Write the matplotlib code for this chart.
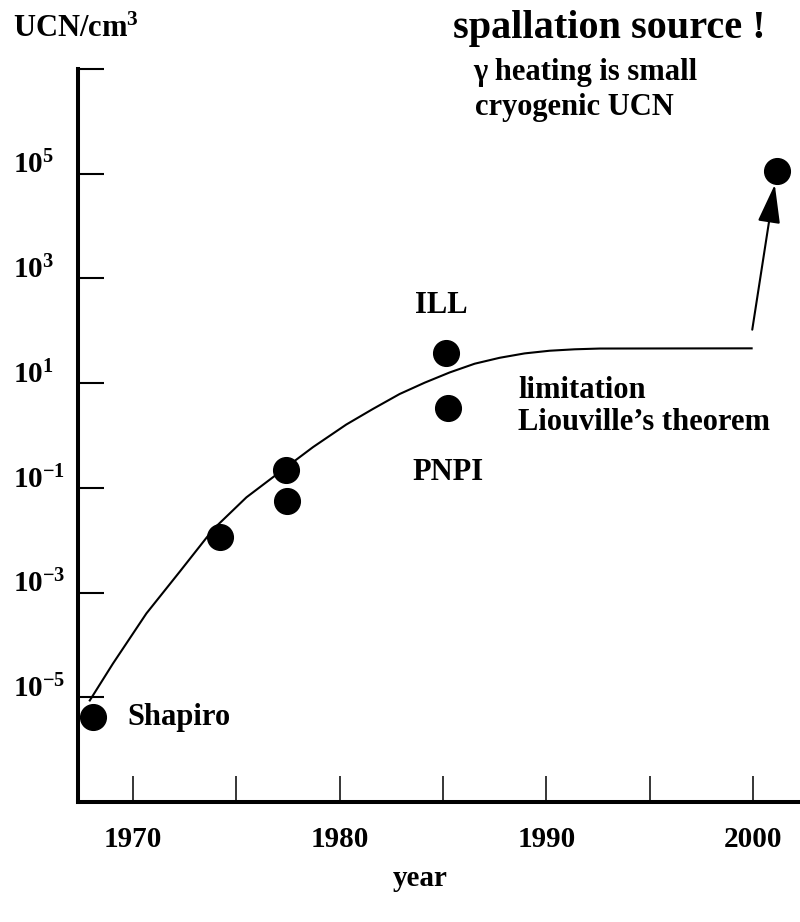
import matplotlib
matplotlib.use('Agg')
import matplotlib.pyplot as plt
from matplotlib.ticker import FixedLocator, NullLocator

# ── values ───────────────────────────────────────────────────────────────────
trend_years = [1967.91, 1969.03, 1970.65, 1972.26, 1973.87, 1975.49, 1977.10,
               1978.71, 1980.32, 1981.60, 1982.90, 1984.11, 1985.32, 1986.53,
               1987.74, 1988.95, 1990.16, 1991.37, 1992.58, 1999.93]
trend_ucn = [8.7e-6, 4.4e-5, 4.0e-4, 2.5e-3, 1.6e-2, 6.6e-2, 0.20,
             0.60, 1.62, 3.2, 6.2, 10.2, 16.0, 23.5,
             30.5, 37.0, 41.6, 44.3, 45.8, 46.2]

source_names = ['Shapiro', '', '', '', 'ILL', 'PNPI', '']
source_years = [1968.07, 1974.21, 1977.42, 1977.45, 1985.16, 1985.22, 2001.18]
source_ucn = [4.2e-6, 1.17e-2, 0.22, 0.055, 37.0, 3.3, 1.14e5]

arrow_from = (1999.96, 105.0)
arrow_to = (2001.05, 6.2e4)

year_ticks = [1970, 1975, 1980, 1985, 1990, 1995, 2000]
year_labels = ['1970', '', '1980', '', '1990', '', '2000']
ucn_ticks = [1e7, 1e5, 1e3, 1e1, 1e-1, 1e-3, 1e-5]
ucn_labels = ['', '$10^{5}$', '$10^{3}$', '$10^{1}$',
              '$10^{-1}$', '$10^{-3}$', '$10^{-5}$']

# ── style ────────────────────────────────────────────────────────────────────
plt.rcParams['font.family'] = ['Liberation Serif', 'DejaVu Serif']
plt.rcParams['font.weight'] = 'bold'
plt.rcParams['mathtext.fontset'] = 'custom'
plt.rcParams['mathtext.rm'] = 'Liberation Serif:bold'
plt.rcParams['mathtext.it'] = 'Liberation Serif:bold'
plt.rcParams['mathtext.bf'] = 'Liberation Serif:bold'
plt.rcParams['mathtext.default'] = 'rm'

W, H = 800, 922
fig = plt.figure(figsize=(W / 100, H / 100), dpi=100)
ax = fig.add_axes([78 / W, 120 / H, 722 / W, 733 / H])


def px(x, y):
    """pixel position (from top-left) -> figure fraction"""
    return x / W, 1 - y / H


ax.set_yscale('log')
ax.set_xlim(1967.34, 2002.27)
ax.set_ylim(1e-7, 1e7)

ax.plot(trend_years, trend_ucn, color='black', lw=1.5, zorder=2,
        solid_joinstyle='round')
ax.plot(source_years, source_ucn, 'o', color='black', ms=18.5,
        zorder=3, clip_on=False)

ax.annotate('', xy=arrow_to, xytext=arrow_from,
            arrowprops=dict(arrowstyle='-|>,head_length=1.2,head_width=0.35',
                            mutation_scale=20, color='black', lw=1.5,
                            shrinkA=0, shrinkB=0))

# point labels, offsets in points from the dot
offsets = {'Shapiro': (25, -6), 'ILL': (-22.8, 29), 'PNPI': (-25.2, -51.5)}
for name, yr, val in zip(source_names, source_years, source_ucn):
    if name:
        ax.annotate(name, (yr, val), xytext=offsets[name],
                    textcoords='offset points', ha='left', va='baseline',
                    fontsize=22)

# axes frame
for side in ('top', 'right'):
    ax.spines[side].set_visible(False)
ax.spines['left'].set_linewidth(2.9)
ax.spines['bottom'].set_linewidth(2.9)

ax.xaxis.set_major_locator(FixedLocator(year_ticks))
ax.set_xticklabels(year_labels)
ax.xaxis.set_minor_locator(NullLocator())
ax.yaxis.set_major_locator(FixedLocator(ucn_ticks))
ax.set_yticklabels(ucn_labels)
ax.yaxis.set_minor_locator(NullLocator())

ax.tick_params(axis='x', direction='in', length=18.7, width=1.1,
               pad=17, labelsize=21)
ax.tick_params(axis='y', direction='in', length=19, width=1.5,
               pad=47, labelsize=21)
for lab in ax.get_yticklabels():
    lab.set_horizontalalignment('left')
    lab.set_verticalalignment('baseline')

# free text
fig.text(*px(13, 37), 'UCN/cm$^3$', fontsize=22, ha='left', va='baseline')
fig.text(*px(453, 38), 'spallation source !', fontsize=29,
         ha='left', va='baseline')
fig.text(*px(473, 80), 'γ heating is small', fontsize=22,
         ha='left', va='baseline')
fig.text(*px(475, 115), 'cryogenic UCN', fontsize=22,
         ha='left', va='baseline')
fig.text(*px(518, 398), 'limitation', fontsize=22, ha='left', va='baseline')
fig.text(*px(518, 430), 'Liouville’s theorem', fontsize=22,
         ha='left', va='baseline')
fig.text(*px(420, 886), 'year', fontsize=21, ha='center', va='baseline')

fig.savefig('out.png', dpi=100, facecolor='white')
